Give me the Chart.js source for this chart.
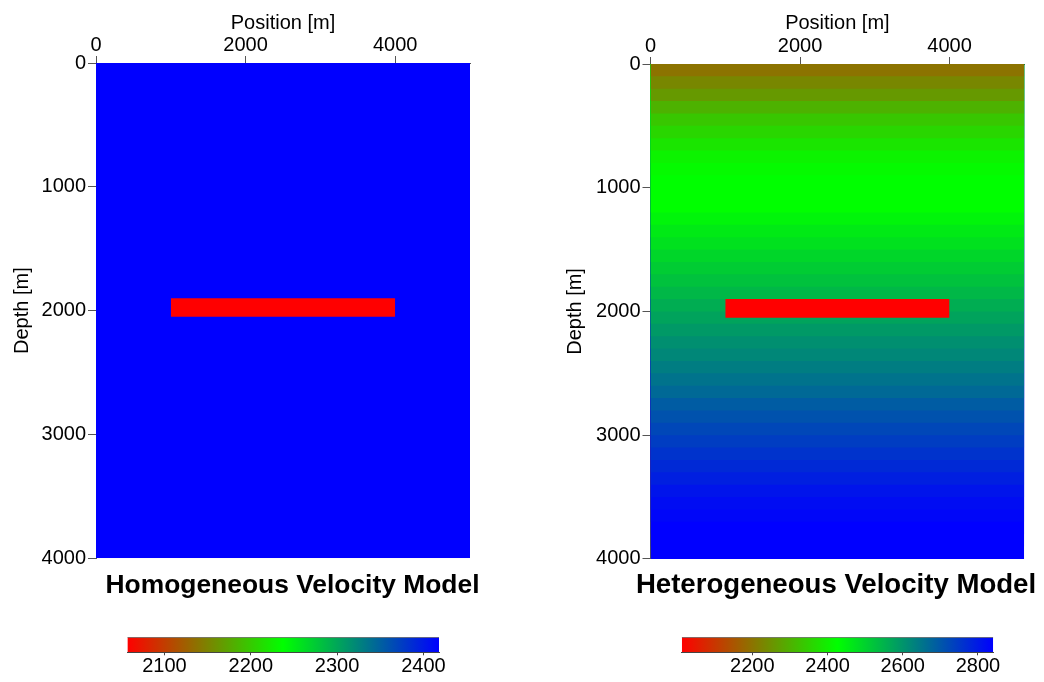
<!DOCTYPE html>
<html>
<head>
<meta charset="utf-8">
<script src="https://cdn.jsdelivr.net/npm/chart.js@4.4.0/dist/chart.umd.min.js"></script>
<style>
  html, body { margin: 0; padding: 0; background: #fff; overflow: hidden; width: 1044px; height: 682px; }
  canvas { position: absolute; }
</style>
</head>
<body>
<canvas id="homo" width="585" height="608" style="left:0;top:0"></canvas>
<canvas id="hetero" width="560" height="608" style="left:556px;top:0"></canvas>
<canvas id="homoBar" width="370" height="55" style="left:100px;top:627px"></canvas>
<canvas id="heteroBar" width="380" height="55" style="left:650px;top:627px"></canvas>
<script>
// model extent and axis ticks
const modelWidth = 5000;
const modelDepth = 4000;
const xTicks = [0, 2000, 4000];
const depthTicks = [0, 1000, 2000, 3000, 4000];

// the reflector (red bar) in both models
const reflectorX = [1000, 4000];
const reflectorZ = [1900, 2050];

// homogeneous model
const homoLayerTops = [0];
const homoVelocity = [2418];
const homoReflector = 2057;
const homoRange = [2057, 2418];
const homoBarTicks = [2100, 2200, 2300, 2400];

// heterogeneous model: one velocity per 100 m layer
const heteroLayerTops = [0, 100, 200, 300, 400, 500, 600, 700, 800, 900,
  1000, 1100, 1200, 1300, 1400, 1500, 1600, 1700, 1800, 1900,
  2000, 2100, 2200, 2300, 2400, 2500, 2600, 2700, 2800, 2900,
  3000, 3100, 3200, 3300, 3400, 3500, 3600, 3700, 3800, 3900];
const heteroVelocity = [2199, 2232, 2261, 2302, 2336, 2360, 2385, 2407, 2418, 2427,
  2427, 2427, 2443, 2460, 2476, 2493, 2509, 2526, 2542, 2559,
  2576, 2592, 2609, 2621, 2638, 2654, 2671, 2692, 2708, 2725,
  2742, 2758, 2775, 2791, 2808, 2821, 2831, 2841, 2841, 2841];
const heteroReflector = 2012;
const heteroRange = [2012, 2841];
const heteroBarTicks = [2200, 2400, 2600, 2800];

// colour map: red -> green -> blue
const colormapStops = [0, 0.5, 1];
const colormapColors = [[255, 0, 0], [0, 255, 0], [0, 0, 255]];

Chart.defaults.font.family = "'Liberation Sans', Arial, Helvetica, sans-serif";
Chart.defaults.color = '#000';

const plain = v => String(v);

function velocityColor(v, range) {
  let f = (v - range[0]) / (range[1] - range[0]);
  f = Math.max(0, Math.min(1, f));
  let i = 0;
  while (i < colormapStops.length - 2 && f > colormapStops[i + 1]) i++;
  const t = (f - colormapStops[i]) / (colormapStops[i + 1] - colormapStops[i]);
  const a = colormapColors[i], b = colormapColors[i + 1];
  const c = a.map((ch, k) => Math.round(ch + (b[k] - ch) * t));
  return `rgb(${c[0]},${c[1]},${c[2]})`;
}

function modelDatasets(tops, vels, reflV, range) {
  // dataset 0 is drawn last, so the reflector sits on top
  const sets = [{
    data: [{ x: reflectorX[0], y: reflectorZ[1] }, { x: reflectorX[1], y: reflectorZ[1] }],
    fill: { value: reflectorZ[0] },
    backgroundColor: velocityColor(reflV, range)
  }];
  // each layer fills from its bottom up to the surface; shallower layers paint over deeper ones
  tops.forEach((top, i) => {
    const bottom = i + 1 < tops.length ? tops[i + 1] : modelDepth;
    sets.push({
      data: [{ x: 0, y: bottom }, { x: modelWidth, y: bottom }],
      fill: { value: 0 },
      backgroundColor: velocityColor(vels[i], range)
    });
  });
  return sets;
}

function modelChart(id, tops, vels, reflV, range, title, opts) {
  return new Chart(document.getElementById(id), {
    type: 'line',
    data: { datasets: modelDatasets(tops, vels, reflV, range) },
    options: {
      responsive: false,
      animation: false,
      events: [],
      elements: {
        point: { radius: 0 },
        line: { borderWidth: 0, borderColor: 'rgba(0,0,0,0)', tension: 0 }
      },
      plugins: {
        legend: { display: false },
        tooltip: { enabled: false },
        title: {
          display: true,
          text: title,
          position: 'bottom',
          color: '#000',
          font: { size: opts.titleSize, weight: 'bold', lineHeight: 1.2 },
          padding: { top: opts.titleTop, bottom: 6 }
        }
      },
      scales: {
        x: {
          type: 'linear',
          position: 'top',
          min: 0,
          max: modelWidth,
          afterBuildTicks: s => { s.ticks = xTicks.map(v => ({ value: v })); },
          afterFit: s => { s.height = opts.top; },
          grid: { drawOnChartArea: false, tickLength: 7, tickColor: '#555' },
          border: { color: '#555' },
          ticks: { font: { size: 20, lineHeight: 1 }, padding: 1, maxRotation: 0, autoSkip: false, callback: plain },
          title: { display: true, text: 'Position [m]', font: { size: 20, lineHeight: 1.2 }, padding: { top: 11 } }
        },
        y: {
          type: 'linear',
          reverse: true,
          min: 0,
          max: modelDepth,
          afterBuildTicks: s => { s.ticks = depthTicks.map(v => ({ value: v })); },
          afterFit: s => { s.width = opts.left; },
          grid: { drawOnChartArea: false, tickLength: 8, tickColor: '#555' },
          border: { color: '#555' },
          ticks: { font: { size: 20, lineHeight: 1 }, padding: 2, autoSkip: false, callback: plain },
          title: { display: true, text: 'Depth [m]', font: { size: 20, lineHeight: 1.2 }, padding: { top: opts.yTitlePad } }
        },
        // empty right-hand axis only reserves room, so the title stays centred on the canvas
        spacer: {
          type: 'linear',
          position: 'right',
          afterFit: s => { s.width = opts.padRight; },
          grid: { display: false },
          border: { display: false },
          ticks: { display: false }
        }
      }
    }
  });
}

function colorBar(id, range, ticks, opts) {
  return new Chart(document.getElementById(id), {
    type: 'line',
    data: {
      datasets: [{
        data: [{ x: range[0], y: 1 }, { x: range[1], y: 1 }],
        fill: { value: 0 },
        borderWidth: 1,
        borderColor: '#444',
        backgroundColor: ctx => {
          const area = ctx.chart.chartArea;
          if (!area) return null;
          const g = ctx.chart.ctx.createLinearGradient(area.left, 0, area.right, 0);
          colormapStops.forEach((s, i) => {
            const c = colormapColors[i];
            g.addColorStop(s, `rgb(${c[0]},${c[1]},${c[2]})`);
          });
          return g;
        }
      }]
    },
    options: {
      responsive: false,
      animation: false,
      events: [],
      layout: { padding: { left: opts.padLeft, right: opts.padRight, top: 10.3 } },
      elements: { point: { radius: 0 }, line: { tension: 0 } },
      plugins: { legend: { display: false }, tooltip: { enabled: false } },
      scales: {
        x: {
          type: 'linear',
          position: 'bottom',
          min: range[0],
          max: range[1],
          afterBuildTicks: s => { s.ticks = ticks.map(v => ({ value: v })); },
          afterFit: s => { s.height = 29.7; },
          grid: { drawOnChartArea: false, tickLength: 3, tickColor: '#444' },
          border: { color: '#444' },
          ticks: { font: { size: 20, lineHeight: 1 }, padding: 1, maxRotation: 0, autoSkip: false, callback: plain }
        },
        y: { display: false, min: 0, max: 1 }
      }
    }
  });
}

modelChart('homo', homoLayerTops, homoVelocity, homoReflector, homoRange,
  'Homogeneous Velocity Model',
  { padRight: 115, top: 63, left: 96, yTitlePad: 10, titleSize: 26.4, titleTop: 12 });
modelChart('hetero', heteroLayerTops, heteroVelocity, heteroReflector, heteroRange,
  'Heterogeneous Velocity Model',
  { padRight: 91.7, top: 64, left: 94.5, yTitlePad: 7, titleSize: 27.6, titleTop: 10 });
colorBar('homoBar', homoRange, homoBarTicks, { padLeft: 27.3, padRight: 31 });
colorBar('heteroBar', heteroRange, heteroBarTicks, { padLeft: 31.7, padRight: 36.7 });
</script>
</body>
</html>
